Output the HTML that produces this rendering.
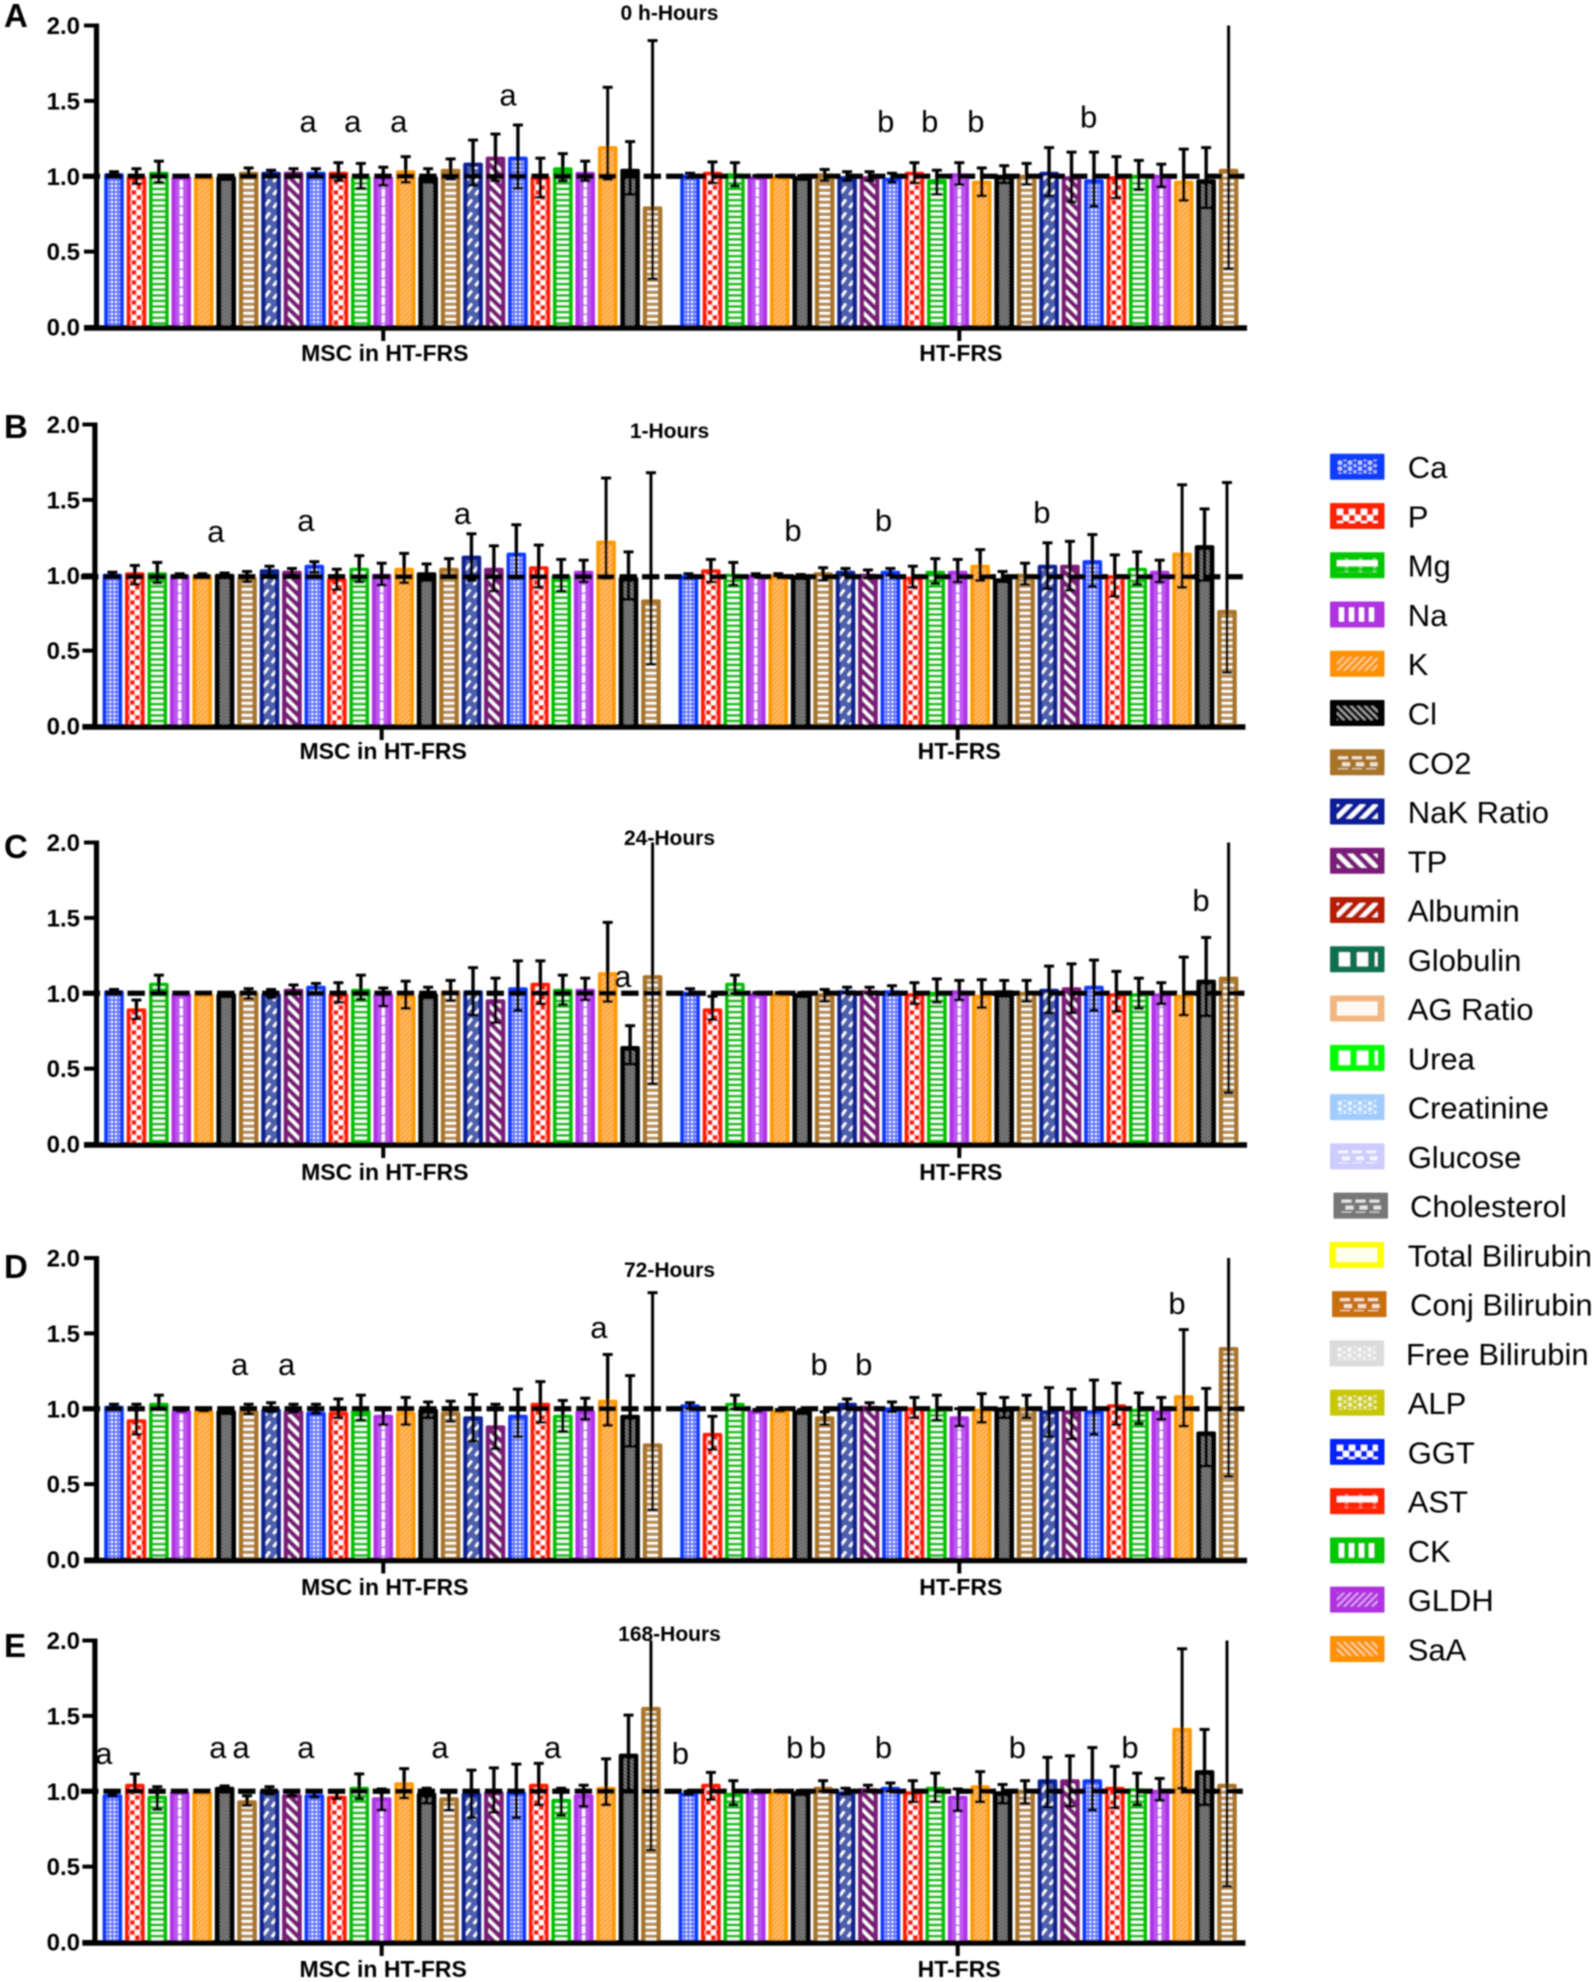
<!DOCTYPE html>
<html lang="en">
<head>
<meta charset="utf-8">
<title>Normalised serum analytes over time</title>
<style>
html,body{margin:0;padding:0;background:#fff;}
#chart{display:block;width:1594px;height:1982px;}
text{font-family:"Liberation Sans",sans-serif;fill:#050505;}
.tick,.group,.title,.panel{font-weight:700;}
.tick{font-size:24px;}
.group{font-size:23px;}
.title{font-size:21px;}
.panel{font-size:33px;}
.mark{font-size:31px;}
.leg{font-size:31px;}
</style>
</head>
<body>
<svg id="chart" xmlns="http://www.w3.org/2000/svg" width="1594" height="1982" viewBox="0 0 1594 1982">
<defs>
<filter id="soft" x="0" y="0" width="100%" height="100%" filterUnits="userSpaceOnUse" primitiveUnits="userSpaceOnUse"><feGaussianBlur stdDeviation="0.8"/></filter>
<pattern id="b0" width="4" height="4" patternUnits="userSpaceOnUse"><rect width="4" height="4" fill="#5f76ff"/><circle cx="2" cy="2" r="1.1" fill="#fff"/></pattern>
<pattern id="b1" width="10" height="10" patternUnits="userSpaceOnUse"><rect x="0" y="0" width="5" height="5" fill="#fff"/><rect x="5" y="5" width="5" height="5" fill="#fff"/></pattern>
<pattern id="b2" width="6" height="5.6" patternUnits="userSpaceOnUse"><rect y="0" width="6" height="2.7" fill="#fff"/></pattern>
<pattern id="b3" width="20" height="9" patternUnits="userSpaceOnUse"><rect width="20" height="9" fill="#bc58ee"/><rect x="0" width="1.6" height="7.6" fill="#fff"/><rect x="18.4" width="1.6" height="7.6" fill="#fff"/></pattern>
<pattern id="b4" width="5" height="5" patternUnits="userSpaceOnUse"><rect width="5" height="5" fill="#ffbe70"/><path d="M-1,6 L6,-1 M-1,1 L1,-1 M4,6 L6,4" stroke="#ff9a00" stroke-width="1.5"/></pattern>
<pattern id="b5" width="3.6" height="3.6" patternUnits="userSpaceOnUse"><rect width="3.6" height="3.6" fill="#8c8c8c"/><path d="M-1,-1 L4.6,4.6 M2.6,-1 L4.6,1 M-1,2.6 L1,4.6" stroke="#333" stroke-width="1"/></pattern>
<pattern id="b6" width="6" height="6" patternUnits="userSpaceOnUse"><rect y="0" width="6" height="2.6" fill="#fff"/><rect y="2.6" width="6" height="3.4" fill="#b98f50"/></pattern>
<pattern id="b7" width="20" height="13" patternUnits="userSpaceOnUse"><rect width="20" height="13" fill="#4e60ac"/><path d="M-6,11 L0,3 L6,-5 M-6,24 L0,16 L6,8 M14,11 L20,3 L26,-5 M14,24 L20,16 L26,8" stroke="#fff" stroke-width="2.6" stroke-dasharray="8 6" fill="none"/></pattern>
<pattern id="b8" width="11" height="11" patternUnits="userSpaceOnUse"><path d="M-1,-1 L12,12 M-1,10 L1,12 M10,-1 L12,1" stroke="#fff" stroke-width="3.2"/></pattern>
<pattern id="lgDots" width="10" height="6" patternUnits="userSpaceOnUse"><circle cx="3" cy="3" r="2.3" fill="#fff" fill-opacity=".75"/><circle cx="8" cy="0" r="1.8" fill="#fff" fill-opacity=".65"/><circle cx="8" cy="6" r="1.8" fill="#fff" fill-opacity=".65"/></pattern>
<pattern id="lgChecks" width="12" height="12" patternUnits="userSpaceOnUse"><rect width="6" height="6" fill="#fff"/><rect x="6" y="6" width="6" height="6" fill="#fff"/></pattern>
<pattern id="lgLine" width="14" height="12" patternUnits="userSpaceOnUse"><rect y="2" width="14" height="6" fill="#fff"/><rect x="8" y="0" width="3" height="10" fill="#fff" fill-opacity=".5"/></pattern>
<pattern id="lgBars" width="10" height="12" patternUnits="userSpaceOnUse"><rect x="2" width="5" height="12" fill="#fff"/></pattern>
<pattern id="lgDiagU" width="7" height="7" patternUnits="userSpaceOnUse"><path d="M-1,8 L8,-1 M-1,1 L1,-1 M6,8 L8,6" stroke="#fff" stroke-opacity=".6" stroke-width="1.8"/></pattern>
<pattern id="lgDiagD" width="7" height="7" patternUnits="userSpaceOnUse"><path d="M-1,-1 L8,8 M-1,6 L1,8 M6,-1 L8,1" stroke="#fff" stroke-opacity=".65" stroke-width="1.8"/></pattern>
<pattern id="lgDiagUB" width="13" height="13" patternUnits="userSpaceOnUse"><path d="M-1,14 L14,-1 M-1,1 L1,-1 M12,14 L14,12" stroke="#fff" stroke-width="4.4"/></pattern>
<pattern id="lgDiagDB" width="13" height="13" patternUnits="userSpaceOnUse"><path d="M-1,-1 L14,14 M-1,12 L1,14 M12,-1 L14,1" stroke="#fff" stroke-width="4.4"/></pattern>
<pattern id="lgBlocks" width="18" height="12" patternUnits="userSpaceOnUse"><rect x="2" width="11" height="12" fill="#fff"/></pattern>
<pattern id="lgSolid" width="10" height="10" patternUnits="userSpaceOnUse"><rect width="10" height="10" fill="#fff" fill-opacity=".92"/></pattern>
<pattern id="lgDash" width="14" height="12" patternUnits="userSpaceOnUse"><rect x="1" y="1" width="10" height="3" fill="#fff" fill-opacity=".8"/><rect x="5" y="7" width="8" height="4" fill="#fff" fill-opacity=".8"/></pattern>
</defs>
<g id="root" filter="url(#soft)"></g>
</svg>
<script>
// ---- Chart data: fold change per analyte slot -------------------------------------
const aMscValues = [1.02,1.0,1.03,1.0,1.0,1.0,1.03,1.03,1.03,1.03,1.03,1.0,1.0,1.04,1.0,1.05,1.09,1.13,1.13,1.0,1.06,1.03,1.2,1.05,0.8];
const aMscHigh = [1.03,1.05,1.10,1.005,1.005,1.005,1.055,1.04,1.05,1.05,1.09,1.085,1.06,1.13,1.05,1.115,1.24,1.28,1.34,1.12,1.15,1.10,1.59,1.23,1.90];
const aMscLow = [1.01,0.95,0.96,0.995,0.995,0.995,1.0,1.0,1.0,1.0,0.97,0.92,0.94,0.96,0.96,0.98,0.94,0.97,0.92,0.86,0.97,0.97,0.98,0.88,0.32];
const aHtValues = [1.01,1.03,1.02,1.0,1.0,1.0,1.02,1.0,1.0,0.99,1.03,0.98,1.02,0.97,1.01,1.01,1.03,1.0,0.98,1.0,1.01,1.01,0.97,0.98,1.05];
const aHtHigh = [1.02,1.095,1.09,1.005,1.005,1.005,1.045,1.03,1.03,1.02,1.09,1.04,1.09,1.055,1.07,1.085,1.19,1.16,1.16,1.13,1.105,1.08,1.18,1.19,2.0];
const aHtLow = [0.99,0.955,0.935,0.995,0.995,0.995,0.97,0.97,0.97,0.96,0.955,0.88,0.945,0.87,0.955,0.945,0.87,0.83,0.80,0.855,0.91,0.93,0.84,0.79,0.385];

const bMscValues = [1.01,1.02,1.02,1.005,1.005,1.01,0.99,1.04,1.03,1.07,0.98,1.05,1.01,1.05,1.02,1.05,1.13,1.05,1.15,1.06,1.0,1.03,1.23,0.99,0.84];
const bMscHigh = [1.02,1.065,1.085,1.01,1.01,1.015,1.025,1.06,1.045,1.09,1.04,1.13,1.08,1.145,1.075,1.11,1.275,1.195,1.335,1.20,1.105,1.10,1.645,1.155,1.68];
const bMscLow = [0.99,0.94,0.95,0.995,0.995,1.0,0.955,1.0,1.0,1.02,0.905,0.955,0.935,0.95,0.965,0.99,0.965,0.895,0.98,0.92,0.895,0.955,0.98,0.84,0.41];
const bHtValues = [1.0,1.04,1.01,1.005,1.005,1.0,1.02,1.03,1.01,1.03,0.99,1.03,1.03,1.07,0.98,1.01,1.07,1.07,1.10,1.0,1.05,1.03,1.15,1.20,0.77];
const bHtHigh = [1.01,1.105,1.085,1.01,1.01,1.005,1.05,1.045,1.035,1.045,1.06,1.11,1.105,1.17,1.025,1.08,1.215,1.225,1.27,1.135,1.155,1.10,1.60,1.44,1.615];
const bHtLow = [0.98,0.955,0.935,0.995,0.995,0.995,0.965,1.0,0.98,1.0,0.92,0.945,0.955,0.965,0.965,0.94,0.91,0.90,0.925,0.86,0.94,0.955,0.92,0.965,0.355];

const cMscValues = [1.02,0.90,1.07,1.0,1.0,1.0,1.01,1.0,1.03,1.05,1.0,1.03,1.0,0.99,1.0,1.02,1.02,0.96,1.04,1.07,1.03,1.03,1.14,0.65,1.12];
const cMscHigh = [1.025,0.955,1.12,1.005,1.005,1.005,1.03,1.025,1.055,1.065,1.07,1.12,1.035,1.08,1.04,1.085,1.17,1.10,1.215,1.215,1.12,1.10,1.47,0.785,2.0];
const cMscLow = [1.0,0.83,1.0,0.995,0.995,0.995,0.965,0.97,1.0,1.0,0.94,0.96,0.915,0.90,0.97,0.95,0.855,0.805,0.885,0.93,0.925,0.955,0.945,0.53,0.40];
const cHtValues = [1.01,0.90,1.07,1.0,1.0,1.0,1.0,1.02,1.02,1.02,1.0,1.01,1.02,0.99,1.02,1.01,1.03,1.04,1.05,1.0,1.0,1.0,0.99,1.09,1.11];
const cHtHigh = [1.03,0.98,1.12,1.005,1.005,1.005,1.025,1.04,1.04,1.05,1.07,1.095,1.085,1.09,1.085,1.085,1.18,1.195,1.22,1.145,1.10,1.07,1.24,1.37,2.0];
const cHtLow = [0.99,0.825,1.0,0.995,0.995,0.995,0.945,1.0,1.0,0.99,0.93,0.94,0.955,0.905,0.98,0.945,0.87,0.87,0.885,0.88,0.90,0.93,0.855,0.85,0.34];

const dMscValues = [1.02,0.93,1.04,0.99,0.99,0.99,0.99,1.0,0.99,0.98,0.98,0.99,0.96,0.98,1.0,0.98,0.95,0.89,0.96,1.04,0.96,0.99,1.06,0.96,0.77];
const dMscHigh = [1.03,1.03,1.09,0.995,0.995,0.995,1.03,1.04,1.03,1.03,1.065,1.09,1.0,1.075,1.045,1.05,1.095,1.03,1.13,1.18,1.055,1.07,1.36,1.22,1.77];
const dMscLow = [1.0,0.83,1.0,0.985,0.985,0.985,0.965,0.98,0.98,0.97,0.94,0.925,0.895,0.895,0.94,0.915,0.785,0.735,0.815,0.91,0.85,0.93,0.89,0.75,0.33];
const dHtValues = [1.03,0.84,1.04,0.99,0.99,0.99,0.95,1.04,1.02,1.01,1.01,1.0,0.95,1.0,1.01,1.01,0.99,0.99,0.99,1.03,1.0,0.99,1.09,0.85,1.41];
const dHtHigh = [1.04,0.95,1.09,0.995,0.995,0.995,0.98,1.065,1.04,1.045,1.075,1.09,1.0,1.10,1.075,1.09,1.14,1.13,1.19,1.17,1.105,1.075,1.525,1.135,2.0];
const dHtLow = [1.0,0.73,1.0,0.985,0.985,0.985,0.895,1.0,1.0,0.98,0.94,0.925,0.885,0.91,0.94,0.94,0.815,0.80,0.83,0.895,0.90,0.93,0.885,0.62,0.55];

const eMscValues = [0.98,1.05,0.97,1.0,1.0,1.03,0.94,1.01,0.98,0.98,0.97,1.03,0.96,1.06,0.99,0.96,0.99,1.0,1.0,1.05,0.95,0.98,1.03,1.25,1.56];
const eMscHigh = [0.99,1.115,1.03,1.005,1.005,1.035,0.97,1.03,1.0,1.0,1.0,1.115,1.015,1.15,1.02,1.0,1.14,1.155,1.18,1.185,1.02,1.04,1.215,1.505,2.0];
const eMscLow = [0.97,1.0,0.88,0.995,0.995,1.02,0.905,0.98,0.97,0.96,0.95,0.95,0.875,0.955,0.92,0.875,0.825,0.86,0.825,0.91,0.84,0.90,0.91,1.0,0.61];
const eHtValues = [0.99,1.05,0.99,1.0,1.0,1.0,1.03,1.0,1.02,1.03,1.0,1.03,0.97,1.04,1.0,1.01,1.08,1.08,1.08,1.03,1.02,1.01,1.42,1.14,1.05];
const eHtHigh = [1.0,1.125,1.07,1.005,1.005,1.005,1.07,1.02,1.04,1.055,1.07,1.12,1.015,1.13,1.045,1.07,1.225,1.235,1.29,1.165,1.12,1.085,1.945,1.41,2.0];
const eHtLow = [0.98,0.945,0.91,0.995,0.995,0.995,1.0,0.98,1.0,1.0,0.93,0.93,0.87,0.93,0.92,0.92,0.895,0.90,0.875,0.89,0.91,0.94,1.02,0.91,0.37];

const aLetters = ['a','a','a','a','b','b','b','b'];
const aLetterSlots = [8.65,10.64,12.69,17.56,34.39,36.35,38.41,43.43];
const aLetterLevels = [1.295,1.295,1.295,1.47,1.295,1.295,1.295,1.325];
const bLetters = ['a','a','a','b','b','b'];
const bLetterSlots = [4.61,8.62,15.6,30.33,34.36,41.42];
const bLetterLevels = [1.22,1.295,1.34,1.227,1.295,1.345];
const cLetters = ['a','b'];
const cLetterSlots = [22.67,48.44];
const cLetterLevels = [1.043,1.545];
const dLetters = ['a','a','a','b','b','b'];
const dLetterSlots = [5.6,7.69,21.61,31.42,33.41,47.37];
const dLetterLevels = [1.224,1.224,1.47,1.224,1.224,1.627];
const eLetters = ['a','a','a','a','a','a','b','b','b','b','b','b'];
const eLetterSlots = [-0.38,4.7,5.73,8.62,14.6,19.62,25.31,30.41,31.42,34.36,40.33,45.35];
const eLetterLevels = [1.18,1.22,1.22,1.22,1.22,1.22,1.18,1.22,1.22,1.22,1.22,1.22];

const panelLetters = ['A','B','C','D','E'];
const panelTitles = ['0 h-Hours','1-Hours','24-Hours','72-Hours','168-Hours'];
const groupNames = ['MSC in HT-FRS','HT-FRS'];
const referenceLevels = [1.0,0.99,1.0,1.0,1.0];
const yTicks = [0,0.5,1,1.5,2];
const yTickLabels = ['0.0','0.5','1.0','1.5','2.0'];
const legendNames = ['Ca','P','Mg','Na','K','Cl','CO2','NaK Ratio','TP','Albumin','Globulin','AG Ratio','Urea','Creatinine','Glucose','Cholesterol','Total Bilirubin','Conj Bilirubin','Free Bilirubin','ALP','GGT','AST','CK','GLDH','SaA'];

// ---- Styling and layout (not data) -------------------------------------------------
const legendColors = ['#0a3cff','#ff2200','#00c800','#b030e0','#ff9000','#000000','#a87428','#0a1a99','#7a1a78','#b81a00','#0e7050','#f0b880','#00ff00','#a0ccff','#ccccff','#777777','#ffff00','#c87010','#dcdcdc','#c8c800','#0020ff','#ff2000','#00c800','#b030e0','#ff9000'];
const legendFills = ['lgDots','lgChecks','lgLine','lgBars','lgDiagU','lgDiagD','lgDash','lgDiagUB','lgDiagDB','lgDiagUB','lgBlocks','lgSolid','lgBlocks','lgDots','lgDash','lgDash','lgSolid','lgDash','lgDots','lgDots','lgChecks','lgLine','lgBars','lgDiagU','lgDiagD'];
const barColors = ['#0b3bff','#ff1a00','#00c000','#b030e8','#ff9a00','#000000','#a8752a','#0a2090','#7a1a78'];
const barInset = [4,4,3.8,4,3.8,5,4.4,4.4,4.4];

const panelBase = [327,726,1144,1559.5,1942];
const panelShift = [0,-1.6,0,0,-1.6];
const panelLetterBase = [27,438,858,1278,1657];
const titleBase = [20,438,845,1277,1641];
const groupBase = [361,759,1180,1595,1977];
const unitPx = 150.75;
const slotPx = 22.44;
const firstBarX = 114;
const htSlotOffset = 25.67;
const barW = 19.6;

const panelSeries = [
  {msc:[aMscValues,aMscHigh,aMscLow], ht:[aHtValues,aHtHigh,aHtLow], letters:[aLetters,aLetterSlots,aLetterLevels]},
  {msc:[bMscValues,bMscHigh,bMscLow], ht:[bHtValues,bHtHigh,bHtLow], letters:[bLetters,bLetterSlots,bLetterLevels]},
  {msc:[cMscValues,cMscHigh,cMscLow], ht:[cHtValues,cHtHigh,cHtLow], letters:[cLetters,cLetterSlots,cLetterLevels]},
  {msc:[dMscValues,dMscHigh,dMscLow], ht:[dHtValues,dHtHigh,dHtLow], letters:[dLetters,dLetterSlots,dLetterLevels]},
  {msc:[eMscValues,eMscHigh,eMscLow], ht:[eHtValues,eHtHigh,eHtLow], letters:[eLetters,eLetterSlots,eLetterLevels]}
];

const NS = 'http://www.w3.org/2000/svg';
const root = document.getElementById('root');
function mk(tag, attrs, parent){
  const el = document.createElementNS(NS, tag);
  for(const k in attrs){ el.setAttribute(k, attrs[k]); }
  (parent || root).appendChild(el);
  return el;
}
function xScale(slot, shift){ return firstBarX + shift + slot * slotPx; }
function yScale(v, base){ return base - v * unitPx; }

function drawBars(g, series, startSlot, shift, base, groupName){
  const values = series[0];
  values.forEach(function(v, i){
    const cx = xScale(startSlot + i, shift);
    const top = yScale(v, base);
    const c = i % 9;
    const bg = mk('g', {transform:'translate(' + cx + ',0)'}, g);
    
    
    mk('rect', {x:-barW/2, y:top, width:barW, height:base-top+1, rx:2, fill:barColors[c]}, bg);
    const ins = barInset[c];
    mk('rect', {x:-barW/2+ins, y:top+ins, width:barW-2*ins, height:Math.max(0,base-top-ins), fill:'url(#b'+c+')'}, bg);
  });
}
function drawErrors(g, series, startSlot, shift, base, groupName){
  const high = series[1], low = series[2];
  high.forEach(function(h, i){
    const cx = xScale(startSlot + i, shift);
    const yh = yScale(Math.min(h, 2), base);
    const yl = yScale(low[i], base);
    const long = (h - low[i]) > 0.6;
    const e = mk('g', {stroke:'#000', fill:'none'}, g);
    
    
    mk('line', {x1:cx, x2:cx, y1:yh, y2:yl, 'stroke-width': long ? 3 : 3.4}, e);
    if(h < 2){ mk('line', {x1:cx-5, x2:cx+5, y1:yh, y2:yh, 'stroke-width':3}, e); }
    mk('line', {x1:cx-5, x2:cx+5, y1:yl, y2:yl, 'stroke-width':3}, e);
  });
}

panelSeries.forEach(function(ps, p){
  const base = panelBase[p], shift = panelShift[p];
  const axisX = 96.5 + shift;
  const g = mk('g', {});
  
  

  drawBars(g, ps.msc, 0, shift, base, 'msc');
  drawBars(g, ps.ht, htSlotOffset, shift, base, 'ht');

  // reference dashed line
  const refY = yScale(referenceLevels[p], base);
  const ref = mk('line', {x1:82.6+shift, x2:1247+shift, y1:refY, y2:refY, stroke:'#000', 'stroke-width':5.2, 'stroke-dasharray':'17.4 5.04'}, g);
  
  

  drawErrors(g, ps.msc, 0, shift, base, 'msc');
  drawErrors(g, ps.ht, htSlotOffset, shift, base, 'ht');

  // axes
  const yAxis = mk('line', {x1:axisX, x2:axisX, y1:yScale(2,base)-2, y2:base+3, stroke:'#000', 'stroke-width':5.2}, g);
  
  
  const xAxis = mk('line', {x1:84+shift, x2:1247+shift, y1:base+1, y2:base+1, stroke:'#000', 'stroke-width':5.4}, g);
  
  

  yTicks.forEach(function(t, i){
    const ty = yScale(t, base);
    const tk = mk('line', {x1:84+shift, x2:axisX, y1:ty, y2:ty, stroke:'#000', 'stroke-width':4}, g);
    
    
    const lb = mk('text', {x:80, y:ty+8.5, 'text-anchor':'end', class:'tick'}, g);
    lb.textContent = yTickLabels[i];
    
    
  });

  // group ticks and labels
  [12, htSlotOffset + 12].forEach(function(slot, i){
    const gx = xScale(slot, shift);
    const tk = mk('line', {x1:gx, x2:gx, y1:base+2, y2:base+14, stroke:'#000', 'stroke-width':4}, g);
    
    
    const lb = mk('text', {x:gx+1.5, y:groupBase[p], 'text-anchor':'middle', class:'group'}, g);
    lb.textContent = groupNames[i];
    
    
  });

  // title
  const title = mk('text', {x:669.5, y:titleBase[p], 'text-anchor':'middle', class:'title'}, g);
  title.textContent = panelTitles[p];
  
  

  // panel letter
  const pl = mk('text', {x:4, y:panelLetterBase[p], class:'panel'}, g);
  pl.textContent = panelLetters[p];
  
  

  // significance letters
  ps.letters[0].forEach(function(ch, i){
    const t = mk('text', {x:xScale(ps.letters[1][i], shift), y:yScale(ps.letters[2][i], base), 'text-anchor':'middle', class:'mark'}, g);
    t.textContent = ch;
    
    
  });
});

// legend
const legend = mk('g', {});


legendNames.forEach(function(name, i){
  const cy = 466.7 + i * 49.26;
  let sx = 1330, tx = 1407.7;
  if(name === 'Cholesterol'){ sx = 1333.5; tx = 1410; }
  if(name === 'Conj Bilirubin'){ sx = 1332; tx = 1410; }
  if(name === 'Free Bilirubin'){ sx = 1329.5; tx = 1406; }
  if(name === 'Total Bilirubin'){ sx = 1329.5; }
  const item = mk('g', {}, legend);
  
  
  mk('rect', {x:sx, y:cy-13, width:54.5, height:26, rx:1, fill:legendColors[i]}, item);
  const inner = mk('g', {transform:'translate(' + (sx+7) + ',' + (cy-7) + ')'}, item);
  mk('rect', {x:0, y:0, width:40.5, height:14, fill:'url(#' + legendFills[i] + ')'}, inner);
  const t = mk('text', {x:tx, y:cy+11.5, class:'leg'}, item);
  t.textContent = name;
  
  
});
</script>
</body>
</html>
